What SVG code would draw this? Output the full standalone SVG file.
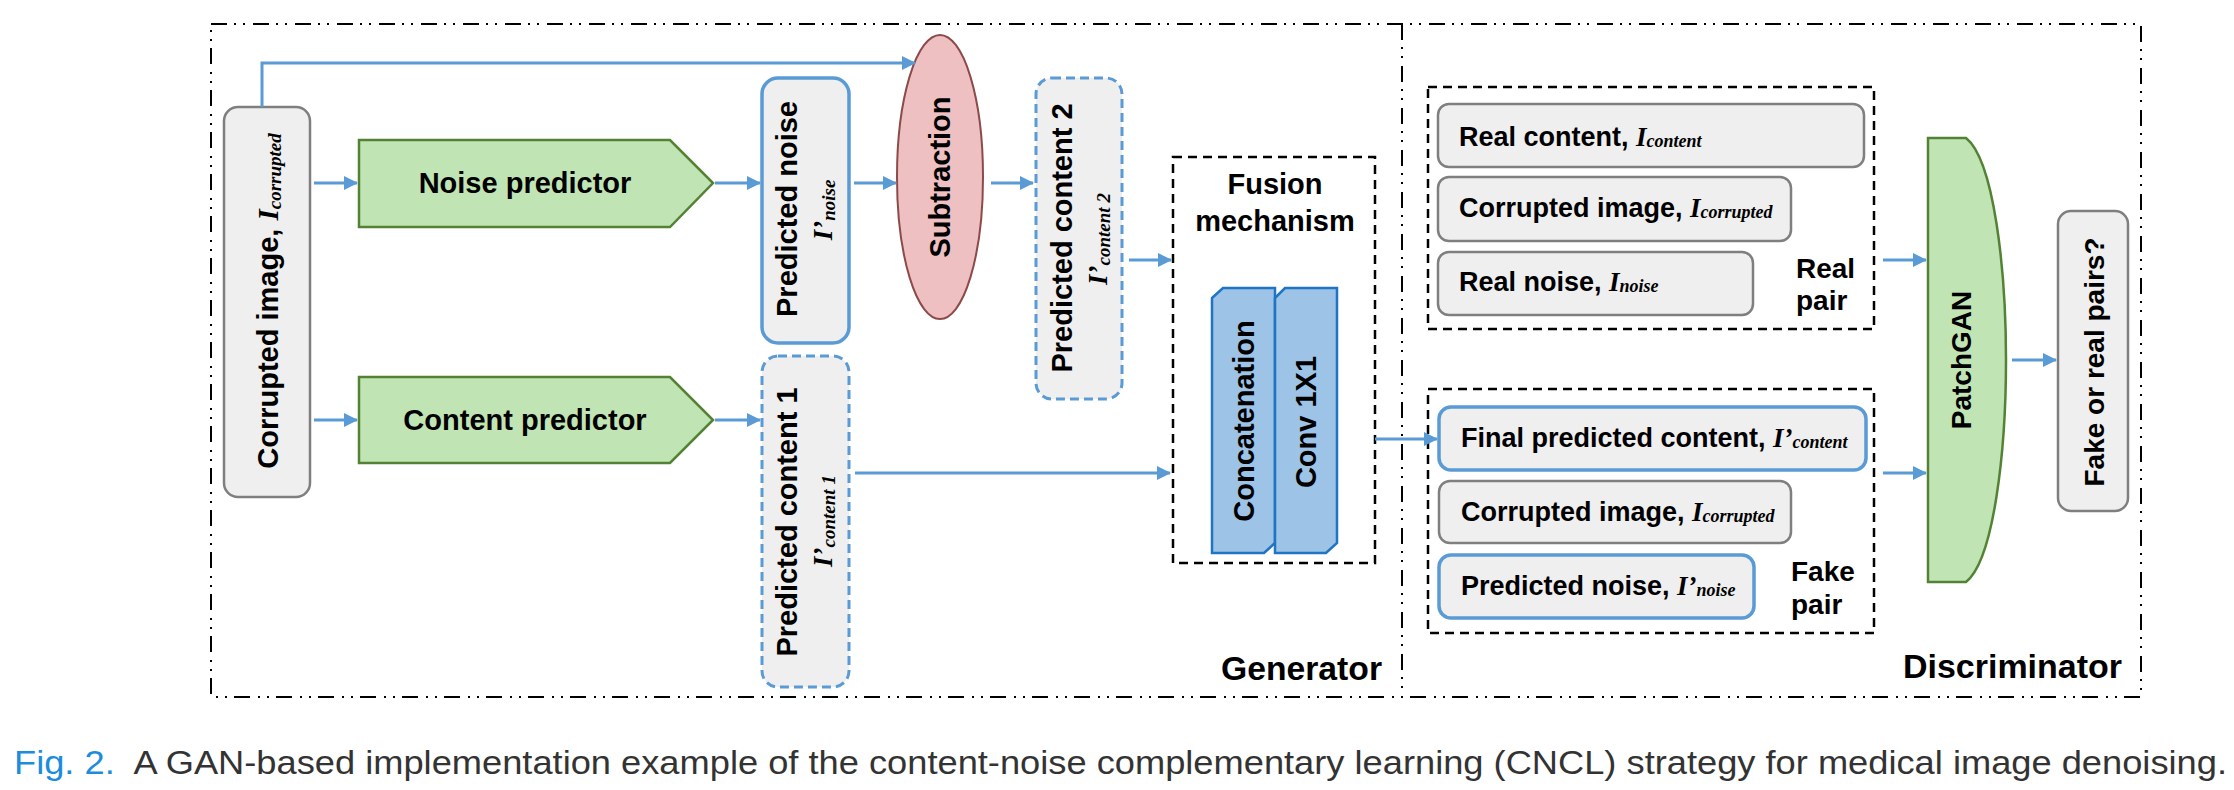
<svg xmlns="http://www.w3.org/2000/svg" width="2234" height="790" viewBox="0 0 2234 790">
<style>
.lbl{font-family:"Liberation Sans",Arial,sans-serif;font-weight:bold;fill:#000}
.math{font-family:"Liberation Serif","Times New Roman",serif;font-style:italic;font-weight:bold}
.gray{fill:#efefef;stroke:#7f7f7f;stroke-width:2.5}
.blue{fill:#efefef;stroke:#5b9bd5;stroke-width:3.5}
.bdash{fill:#efefef;stroke:#5b9bd5;stroke-width:3;stroke-dasharray:9 5}
.green{fill:#c0e4b4;stroke:#548235;stroke-width:2.5}
.conv{fill:#9dc3e6;stroke:#1f74c4;stroke-width:2.5}
.kdash{fill:none;stroke:#000;stroke-width:2.5;stroke-dasharray:9 6}
.dd{fill:none;stroke:#000;stroke-width:2;stroke-dasharray:16 7 2 7 2 8}
.conn{fill:none;stroke:#5b9bd5;stroke-width:3;marker-end:url(#arr)}
</style>
<defs>
<marker id="arr" markerUnits="userSpaceOnUse" markerWidth="14" markerHeight="14" refX="13" refY="7" orient="auto">
<path d="M0,0 L14,7 L0,14 Z" fill="#5b9bd5"/>
</marker>
</defs>
<rect width="2234" height="790" fill="#fff"/>

<g id="frames">
<rect class="dd" x="211" y="24" width="1930" height="673"/>
<line class="dd" x1="1402" y1="24" x2="1402" y2="697"/>
<text class="lbl" x="1382" y="680" font-size="33" text-anchor="end" textLength="161" lengthAdjust="spacingAndGlyphs">Generator</text>
<text class="lbl" x="2122" y="678" font-size="33" text-anchor="end" textLength="219" lengthAdjust="spacingAndGlyphs">Discriminator</text>
</g>

<g id="corrupted">
<rect class="gray" x="224" y="107" width="86" height="390" rx="14"/>
<text class="lbl" font-size="29" text-anchor="middle" transform="translate(278,301) rotate(-90)">Corrupted image, <tspan class="math" font-size="29">I</tspan><tspan class="math" font-size="19" dy="3">corrupted</tspan></text>
</g>

<g id="noise-predictor">
<path class="green" d="M359,140 H670 L713,183 L670,227 H359 Z"/>
<text class="lbl" x="525" y="193" font-size="29" text-anchor="middle">Noise predictor</text>
</g>

<g id="content-predictor">
<path class="green" d="M359,377 H670 L713,420 L670,463 H359 Z"/>
<text class="lbl" x="525" y="430" font-size="29" text-anchor="middle">Content predictor</text>
</g>

<g id="predicted-noise">
<rect class="blue" x="762" y="78" width="87" height="265" rx="16"/>
<text class="lbl" font-size="29" text-anchor="middle" transform="translate(797,209) rotate(-90)">Predicted noise</text>
<text class="math" font-size="27" text-anchor="middle" transform="translate(832,210) rotate(-90)">I’<tspan font-size="19" dy="3">noise</tspan></text>
</g>

<g id="predicted-content-1">
<rect class="bdash" x="762" y="356" width="87" height="331" rx="16"/>
<text class="lbl" font-size="29" text-anchor="middle" transform="translate(797,522) rotate(-90)">Predicted content 1</text>
<text class="math" font-size="27" text-anchor="middle" transform="translate(832,521) rotate(-90)">I’<tspan font-size="19" dy="3">content 1</tspan></text>
</g>

<g id="subtraction">
<ellipse cx="940" cy="177" rx="43" ry="142" fill="#eec0c2" stroke="#8c4a4a" stroke-width="2"/>
<text class="lbl" font-size="29" text-anchor="middle" transform="translate(950,177) rotate(-90)">Subtraction</text>
</g>

<g id="predicted-content-2">
<rect class="bdash" x="1036" y="78" width="86" height="321" rx="16"/>
<text class="lbl" font-size="29" text-anchor="middle" transform="translate(1072,238) rotate(-90)">Predicted content 2</text>
<text class="math" font-size="27" text-anchor="middle" transform="translate(1107,239) rotate(-90)">I’<tspan font-size="19" dy="3">content 2</tspan></text>
</g>

<g id="fusion">
<rect class="kdash" x="1173" y="157" width="202" height="406"/>
<text class="lbl" x="1275" y="194" font-size="29" text-anchor="middle">Fusion</text>
<text class="lbl" x="1275" y="231" font-size="29" text-anchor="middle">mechanism</text>
</g>
<g id="concatenation">
<path class="conv" d="M1212,298 L1223,288 H1275 V543 L1264,553 H1212 Z"/>
<text class="lbl" font-size="29" text-anchor="middle" transform="translate(1254,421) rotate(-90)">Concatenation</text>
</g>
<g id="conv1x1">
<path class="conv" d="M1275,298 L1285,288 H1337 V543 L1326,553 H1275 Z"/>
<text class="lbl" font-size="29" text-anchor="middle" transform="translate(1316,422) rotate(-90)">Conv 1X1</text>
</g>

<g id="real-pair">
<rect class="kdash" x="1428" y="87" width="446" height="242"/>
<rect class="gray" x="1438" y="104" width="426" height="63" rx="11"/>
<text class="lbl" x="1459" y="146" font-size="27">Real content, <tspan class="math" font-size="27">I</tspan><tspan class="math" font-size="18" dy="1">content</tspan></text>
<rect class="gray" x="1438" y="177" width="353" height="64" rx="11"/>
<text class="lbl" x="1459" y="217" font-size="27">Corrupted image, <tspan class="math" font-size="27">I</tspan><tspan class="math" font-size="18" dy="1">corrupted</tspan></text>
<rect class="gray" x="1438" y="252" width="315" height="63" rx="11"/>
<text class="lbl" x="1459" y="291" font-size="27">Real noise, <tspan class="math" font-size="27">I</tspan><tspan class="math" font-size="18" dy="1">noise</tspan></text>
<text class="lbl" x="1796" y="278" font-size="28">Real</text>
<text class="lbl" x="1796" y="310" font-size="28">pair</text>
</g>

<g id="fake-pair">
<rect class="kdash" x="1428" y="389" width="446" height="244"/>
<rect class="blue" x="1439" y="407" width="427" height="63" rx="12"/>
<text class="lbl" x="1461" y="447" font-size="27">Final predicted content, <tspan class="math" font-size="27">I’</tspan><tspan class="math" font-size="18" dy="1">content</tspan></text>
<rect class="gray" x="1439" y="481" width="352" height="62" rx="11"/>
<text class="lbl" x="1461" y="521" font-size="27">Corrupted image, <tspan class="math" font-size="27">I</tspan><tspan class="math" font-size="18" dy="1">corrupted</tspan></text>
<rect class="blue" x="1439" y="555" width="315" height="63" rx="12"/>
<text class="lbl" x="1461" y="595" font-size="27">Predicted noise, <tspan class="math" font-size="27">I’</tspan><tspan class="math" font-size="18" dy="1">noise</tspan></text>
<text class="lbl" x="1791" y="581" font-size="28">Fake</text>
<text class="lbl" x="1791" y="614" font-size="28">pair</text>
</g>

<g id="patchgan">
<path class="green" d="M1928,138 H1966 C1994,160 2006,270 2006,360 C2006,450 1994,560 1966,582 H1928 Z"/>
<text class="lbl" font-size="28" text-anchor="middle" transform="translate(1971,360) rotate(-90)">PatchGAN</text>
</g>

<g id="fake-or-real">
<rect class="gray" x="2058" y="211" width="70" height="300" rx="13"/>
<text class="lbl" font-size="28" text-anchor="middle" transform="translate(2104,362) rotate(-90)">Fake or real pairs?</text>
</g>

<g id="connectors">
<path class="conn" d="M314,183 H357"/>
<path class="conn" d="M314,420 H357"/>
<path class="conn" d="M715,183 H760"/>
<path class="conn" d="M715,420 H760"/>
<path class="conn" d="M262,107 V63 H915"/>
<path class="conn" d="M854,183 H896"/>
<path class="conn" d="M991,183 H1033"/>
<path class="conn" d="M1129,260 H1171"/>
<path class="conn" d="M855,473 H1170"/>
<path class="conn" d="M1375,439 H1437"/>
<path class="conn" d="M1883,260 H1926"/>
<path class="conn" d="M1883,473 H1926"/>
<path class="conn" d="M2012,360 H2056"/>
</g>

<g id="caption">
<text x="14" y="774" font-family="'Liberation Sans',Arial,sans-serif" font-size="34" fill="#333" textLength="2213" lengthAdjust="spacingAndGlyphs"><tspan fill="#1c8ddc">Fig. 2.</tspan><tspan dx="10"> A GAN-based implementation example of the content-noise complementary learning (CNCL) strategy for medical image denoising.</tspan></text>
</g>
</svg>
